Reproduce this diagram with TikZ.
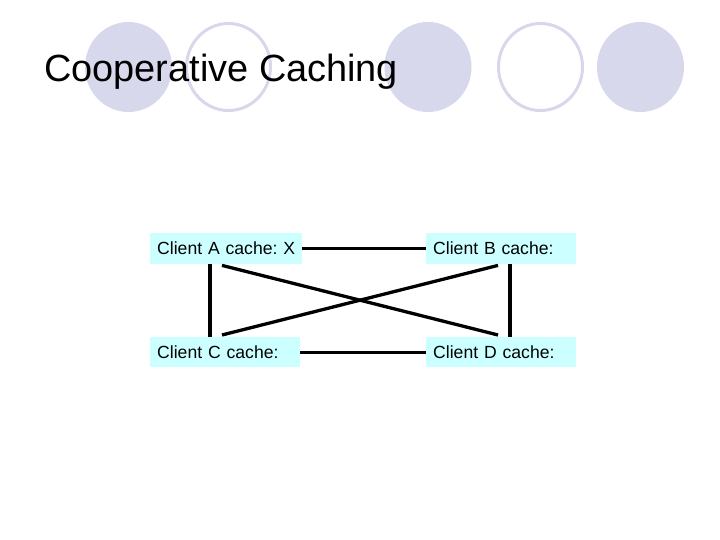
\documentclass[tikz,border=0pt]{standalone}
\usepackage{fontspec}
\setmainfont{Liberation Sans}
\usetikzlibrary{calc}
\definecolor{lav}{RGB}{216,216,236}
\definecolor{cyanbox}{RGB}{204,255,255}
\frenchspacing
\tikzset{
  dot/.style={fill=lav, draw=none},
  ring/.style={draw=lav, line width=3pt, fill=white},
  client/.style={fill=cyanbox, draw=none, anchor=north west, minimum height=31pt, inner sep=0pt, text width=150pt, align=left, font=\fontsize{17.6pt}{20pt}\selectfont\frenchspacing},
  link/.style={line width=3.3pt, black}
}
\begin{document}
\begin{tikzpicture}[x=1pt,y=-1pt]
\useasboundingbox (0,0) rectangle (720,540);
\fill[white] (0,0) rectangle (720,540);
% decorative circles
\path[dot] (128.5,67) ellipse [x radius=43.5, y radius=45];
\path[ring] (228.5,67) ellipse [x radius=42, y radius=43.5];
\path[dot] (428,67) ellipse [x radius=43.5, y radius=45];
\path[ring] (540.5,67) ellipse [x radius=42, y radius=43.5];
\path[dot] (640.5,67) ellipse [x radius=43.5, y radius=45];
% title
\node[anchor=base west, inner sep=0pt, font=\fontsize{37.9pt}{40pt}\selectfont] (title) at (44,82) {Cooperative Caching};
% clients
\node[client, text width=152pt] (A) at (150,233) {\hspace*{7pt}Client A cache: X};
\node[client] (B) at (426,233) {\hspace*{7pt}Client B cache:};
\node[client, minimum height=30pt] (C) at (150,337) {\hspace*{7pt}Client C cache:};
\node[client, minimum height=30pt] (D) at (426,337) {\hspace*{7pt}Client D cache:};
% links
\draw[link] (A.east) -- (B.west);
\draw[link] (C.east) -- (D.west);
\draw[link] ($(A.south west)+(60,0)$) -- ($(C.north west)+(60,0)$);
\draw[link] ($(B.south west)+(84,0)$) -- ($(D.north west)+(84,0)$);
\draw[link] ($(A.south west)+(72,1)$) -- ($(D.north west)+(72,-2)$);
\draw[link] ($(B.south west)+(72,1)$) -- ($(C.north west)+(72,-2)$);
\end{tikzpicture}
\end{document}
